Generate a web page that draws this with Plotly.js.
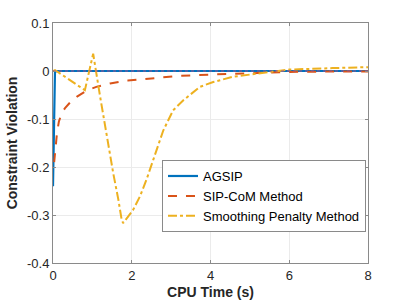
<!DOCTYPE html>
<html><head><meta charset="utf-8">
<script src="https://cdn.plot.ly/plotly-3.0.1.min.js"></script>
<style>html,body{margin:0;padding:0;background:#fff}#chart{width:407px;height:305px}</style>
</head><body><div id="chart"></div>
<script>
var agsipX = [0, 0.02, 0.05, 0.1, 1, 2, 4, 6, 8];
var agsipY = [-0.24, -0.1, -0.002, 0, 0, 0, 0, 0, 0];
var sipX = [0.03, 0.06, 0.1, 0.15, 0.22, 0.3, 0.45, 0.6, 0.85, 1.1, 1.45, 1.9, 2.38, 3.22, 4.15, 5.0, 6.0, 7.0, 8.0];
var sipY = [-0.19, -0.16, -0.13, -0.105, -0.088, -0.078, -0.064, -0.054, -0.041, -0.033, -0.026, -0.02, -0.016, -0.01, -0.007, -0.004, -0.002, -0.001, -0.001];
var smX = [0, 0.05, 0.81, 1.02, 1.2, 1.38, 1.53, 1.66, 1.74, 1.78, 1.83, 1.92, 2.03, 2.21, 2.38, 2.55, 2.72, 2.8, 3.05, 3.31, 3.73, 4.07, 4.57, 5.25, 5.6, 6.0, 7.1, 8];
var smY = [0, 0.002, -0.04, 0.036, -0.055, -0.144, -0.213, -0.268, -0.308, -0.317, -0.312, -0.302, -0.29, -0.261, -0.225, -0.184, -0.144, -0.124, -0.082, -0.061, -0.033, -0.023, -0.012, -0.005, 0.0, 0.003, 0.006, 0.008];
var refX = [0, 8];
var refY = [0, 0];
var names = ['AGSIP', 'SIP-CoM Method', 'Smoothing Penalty Method'];

var traces = [
  {x: agsipX, y: agsipY, name: names[0], mode: 'lines', line: {color: '#0072BD', width: 2.2}},
  {x: sipX, y: sipY, name: names[1], mode: 'lines', line: {color: '#D95319', width: 2, dash: 'dash'}},
  {x: smX, y: smY, name: names[2], mode: 'lines', line: {color: '#EDB120', width: 2, dash: 'dashdot'}},
  {x: refX, y: refY, mode: 'lines', showlegend: false, line: {color: '#A2528F', width: 1, dash: 'dot'}}
];
var axisCommon = {
  showgrid: true, gridcolor: '#ebebeb', gridwidth: 1, zeroline: false,
  showline: true, linecolor: '#8a8a8a', linewidth: 1, mirror: 'ticks',
  ticks: 'inside', ticklen: 3, tickcolor: '#8a8a8a',
  tickfont: {family: 'Liberation Sans, Arial, sans-serif', size: 13, color: '#262626'}
};
var layout = {
  width: 407, height: 305,
  margin: {l: 53, r: 39, t: 23, b: 42},
  paper_bgcolor: '#fff', plot_bgcolor: '#fff',
  xaxis: Object.assign({}, axisCommon, {range: [0, 8], dtick: 2, tick0: 0,
    title: {text: '<b>CPU Time (s)</b>', standoff: 5, font: {family: 'Liberation Sans, Arial, sans-serif', size: 14, color: '#262626'}}}),
  yaxis: Object.assign({}, axisCommon, {range: [-0.4, 0.1],
    tickvals: [-0.4, -0.3, -0.2, -0.1, 0, 0.1], ticktext: ['-0.4', '-0.3', '-0.2', '-0.1', '0', '0.1'],
    title: {text: '<b>Constraint Violation</b>', standoff: 6, font: {family: 'Liberation Sans, Arial, sans-serif', size: 14, color: '#262626'}}}),
  legend: {x: 0.346, y: 0.429, xanchor: 'left', yanchor: 'top', bgcolor: '#fff', bordercolor: '#8a8a8a', borderwidth: 1,
    font: {family: 'Liberation Sans, Arial, sans-serif', size: 13, color: '#000'}, tracegroupgap: 0, itemwidth: 30},
  showlegend: true
};
Plotly.newPlot('chart', traces, layout, {staticPlot: true, displayModeBar: false});
</script></body></html>
